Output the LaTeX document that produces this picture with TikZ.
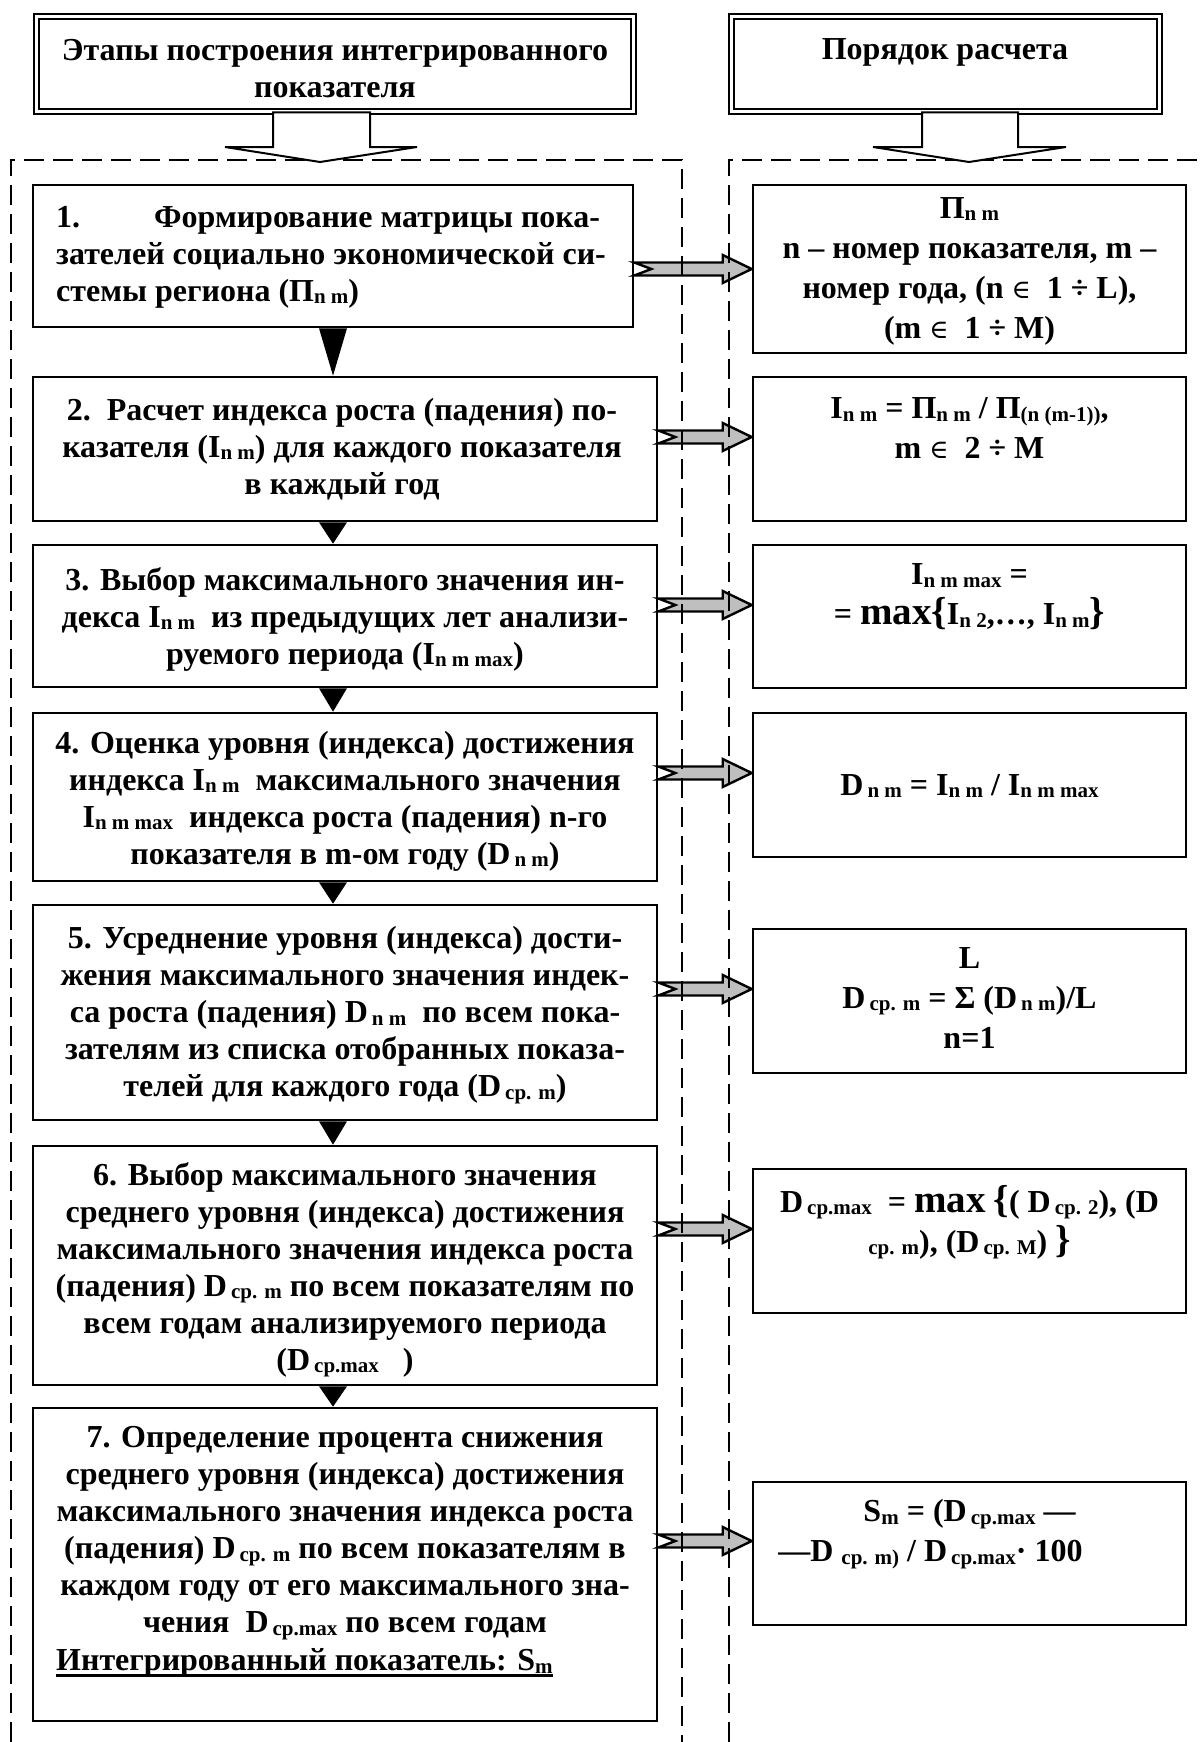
\documentclass[tikz,border=0pt]{standalone}
\usepackage{fontspec}
\setmainfont{Liberation Serif}
\newfontfamily\symf{DejaVu Serif}
\usetikzlibrary{calc}
\newcommand\lo[1]{\raisebox{-2.5pt}{\fontsize{21}{21}\selectfont #1}}
\newcommand\Dl[1]{D\hspace{4pt}\lo{#1}}
\newcommand\el{{\symf\mdseries\fontsize{26}{26}\selectfont ∈}}
\newcommand\bigf[1]{{\fontsize{39}{40}\selectfont #1}}
\newcommand\garrow[3]{%
 \draw[garr] ($(#1.east |- 0,#3)+(0,-6.5)$) -- ($(#2.west |- 0,#3)+(-29,-6.5)$)
   -- ($(#2.west |- 0,#3)+(-29,-14)$) -- (#2.west |- 0,#3)
   -- ($(#2.west |- 0,#3)+(-29,14)$) -- ($(#2.west |- 0,#3)+(-29,6.5)$)
   -- ($(#1.east |- 0,#3)+(0,6.5)$) -- ($(#1.east |- 0,#3)+(17,0)$) -- cycle;}
\newcommand\tri[2]{\fill (319,0 |- #1.south) -- (347,0 |- #1.south) -- (333,0 |- #2.north) -- cycle;}
\begin{document}
\begin{tikzpicture}[x=1pt,y=-1pt,
  box/.style={draw, line width=2.6pt, inner sep=0pt},
  hbox/.style={draw, line width=1.8pt, double, double distance=3pt, inner sep=0pt},
  txt/.style={inner sep=0pt, font=\bfseries\fontsize{32}{37}\selectfont, align=center},
  rtxt/.style={txt, font=\bfseries\fontsize{32}{40}\selectfont},
  garr/.style={draw, line width=2.4pt, fill=black!25, line join=miter},
  hollow/.style={draw, line width=2pt, fill=white},
  dashfr/.style={line width=2.6pt, dash pattern=on 20pt off 9pt}]
\useasboundingbox (0,0) rectangle (1201,1742);

% headers
\node[hbox, minimum width=597pt, minimum height=95pt] (hl) at (335,64) {};
\node[hbox, minimum width=428pt, minimum height=95pt] (hr) at (945.5,64) {};
\node[txt] (hlt) at (335,69) {Этапы построения интегрированного\\показателя};
\node[txt] (hrt) at (945,52) {Порядок расчета};

% left boxes
\node[box, minimum width=600pt, minimum height=142pt] (b1) at (333,256) {};
\node[box, minimum width=624pt, minimum height=144pt] (b2) at (345,449) {};
\node[box, minimum width=624pt, minimum height=142pt] (b3) at (345,616) {};
\node[box, minimum width=624pt, minimum height=168pt] (b4) at (345,797) {};
\node[box, minimum width=624pt, minimum height=215pt] (b5) at (345,1012.5) {};
\node[box, minimum width=624pt, minimum height=239pt] (b6) at (345,1265.5) {};
\node[box, minimum width=624pt, minimum height=313pt] (b7) at (345,1564.5) {};

% right boxes
\node[box, minimum width=433pt, minimum height=168pt] (r1) at (969.5,269) {};
\node[box, minimum width=433pt, minimum height=144pt] (r2) at (969.5,449) {};
\node[box, minimum width=433pt, minimum height=143pt] (r3) at (969.5,616.5) {};
\node[box, minimum width=433pt, minimum height=144pt] (r4) at (969.5,785) {};
\node[box, minimum width=433pt, minimum height=144pt] (r5) at (969.5,1001) {};
\node[box, minimum width=433pt, minimum height=144pt] (r6) at (969.5,1241) {};
\node[box, minimum width=433pt, minimum height=143pt] (r7) at (969.5,1553.5) {};

% left texts
\node[txt, align=left, anchor=west] (t1) at (56,257)
  {\makebox[98pt][l]{1.}Формирование матрицы пока-\\зателей социально экономической си-\\стемы региона (П\lo{n m})};
\node[txt] (t2) at (342,449)
  {2.~~Расчет индекса роста (падения) по-\\казателя (I\lo{n m}) для каждого показателя\\в каждый год};
\node[txt] (t3) at (345,619)
  {3. Выбор максимального значения ин-\\декса I\lo{n m}~~из предыдущих лет анализи-\\руемого периода (I\lo{n m max})};
\node[txt] (t4) at (345,801)
  {4. Оценка уровня (индекса) достижения\\индекса I\lo{n m}~~максимального значения\\I\lo{n m max}~~индекса роста (падения) n-го\\показателя в m-ом году (\Dl{n m})};
\node[txt] (t5) at (345,1015)
  {5. Усреднение уровня (индекса) дости-\\жения максимального значения индек-\\са роста (падения) \Dl{n m}~~по всем пока-\\зателям из списка отобранных показа-\\телей для каждого года (\Dl{ср. m})};
\node[txt] (t6) at (345,1270)
  {6. Выбор максимального значения\\среднего уровня (индекса) достижения\\максимального значения индекса роста\\(падения) \Dl{ср. m} по всем показателям по\\всем годам анализируемого периода\\(\Dl{ср.max}~~~)};
\node[txt] (t7) at (345,1533)
  {7. Определение процента снижения\\среднего уровня (индекса) достижения\\максимального значения индекса роста\\(падения) \Dl{ср. m} по всем показателям в\\каждом году от его максимального зна-\\чения~~\Dl{ср.max} по всем годам};
\node[txt, anchor=west] (t7u) at (56,1663)
  {Интегрированный показатель: S\lo{m}};
\draw[line width=2.6pt] ([yshift=-5pt]t7u.base west) -- ([yshift=-5pt]t7u.base east);

% right texts
\begin{scope}
\clip (r1.north west) rectangle (r1.south east);
\node[rtxt] (s1) at (969.5,271)
  {П\lo{n m}\\n – номер показателя, m –\\номер года, (n \el~~1 ÷ L),\\(m \el~~1 ÷ M)};
\end{scope}
\node[rtxt] (s2) at (969.5,428)
  {I\lo{n m} = П\lo{n m} / П\lo{(n (m-1))},\\m \el~~2 ÷ M};
\node[rtxt] (s3) at (969.5,597)
  {I\lo{n m max} =\\= \bigf{max\{}I\lo{n 2},…, I\lo{n m}\bigf{\}}};
\node[rtxt] (s4) at (969.5,786)
  {\Dl{n m} = I\lo{n m} / I\lo{n m max}};
\node[rtxt] (s5) at (969.5,998)
  {L\\\Dl{ср. m} = Σ (\Dl{n m})/L\\n=1};
\node[rtxt] (s6) at (969.5,1222)
  {\Dl{ср.max}~~= \bigf{max} \bigf{\{}( \Dl{ср. 2}), (D\\\lo{ср. m}), (\Dl{ср. M}) \bigf{\}}};
\node[rtxt] (s7) at (969.5,1534)
  {S\lo{m} = (\Dl{ср.max} —\\—D \lo{ср. m)} / \Dl{ср.max}· 100\makebox[78pt]{}};

% black triangles
\tri{b1}{b2}
\tri{b2}{b3}
\tri{b3}{b4}
\tri{b4}{b5}
\tri{b5}{b6}
\tri{b6}{b7}

% gray arrows
\garrow{b1}{r1}{269}
\garrow{b2}{r2}{437}
\garrow{b3}{r3}{605}
\garrow{b4}{r4}{773}
\garrow{b5}{r5}{989}
\garrow{b6}{r6}{1229}
\garrow{b7}{r7}{1541}

% dashed frames
\draw[dashfr] (11,1742) -- (11,160) -- (682,160) -- (682,1742);
\draw[dashfr] (729,1742) -- (729,160) -- (1201,160);

% hollow arrows
\draw[hollow] (273,0 |- hl.south) -- (273,147) -- (225,147) -- (320,162) -- (417,147) -- (370,147) -- (370,0 |- hl.south) -- cycle;
\draw[hollow] (922,0 |- hr.south) -- (922,147) -- (873,147) -- (969,162) -- (1066,147) -- (1018,147) -- (1018,0 |- hr.south) -- cycle;
\end{tikzpicture}
\end{document}
